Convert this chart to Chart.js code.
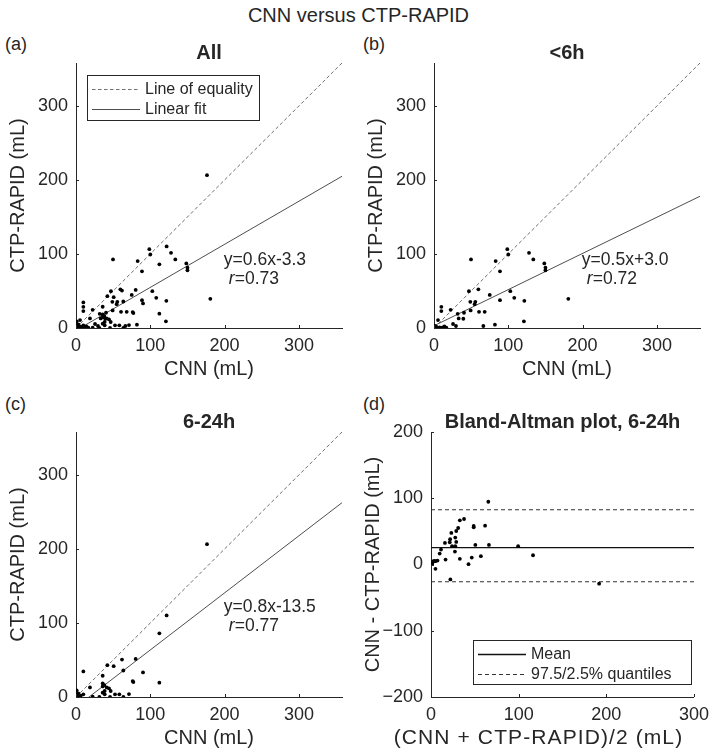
<!DOCTYPE html>
<html>
<head>
<meta charset="utf-8">
<title>CNN versus CTP-RAPID</title>
<script src="https://cdn.jsdelivr.net/npm/chart.js@4.4.1/dist/chart.umd.min.js"></script>
<style>
    html, body { margin: 0; padding: 0; background: #fff; }
    body {
        width: 717px; height: 752px; position: relative; overflow: hidden;
        font-family: "Liberation Sans", Arial, sans-serif; color: #262626;
    }
    .panel { position: absolute; }
    .tag { position: absolute; font-size: 18px; line-height: 20px; }
    #mainTitle {
        position: absolute; left: 0; top: 4px; width: 717px;
        text-align: center; font-size: 20px; line-height: 22px;
    }
</style>
</head>
<body>

<div id="mainTitle">CNN versus CTP-RAPID</div>
<div class="tag" style="left:5px;  top:34px">(a)</div>
<div class="tag" style="left:363px; top:34px">(b)</div>
<div class="tag" style="left:5px;  top:394px">(c)</div>
<div class="tag" style="left:363px; top:394px">(d)</div>

<div class="panel" style="left:0;     top:30px;  width:358px; height:351px"><canvas id="chartAll"></canvas></div>
<div class="panel" style="left:358px; top:30px;  width:358px; height:351px"><canvas id="chartLt6"></canvas></div>
<div class="panel" style="left:0;     top:399px; width:358px; height:351px"><canvas id="chartGt6"></canvas></div>
<div class="panel" style="left:358px; top:399px; width:358px; height:351px"><canvas id="chartBA"></canvas></div>

<script>
/* ── Data ───────────────────────────────────────────────────── */

// <6h : CNN volume vs CTP-RAPID volume (mL)
const lt6Cnn   = [49.8, 98.7, 100, 127.9, 133.7, 83, 88.8, 148.5, 150, 150,
                  47, 59.7, 75, 102.7, 108, 121.6, 88.8, 180.8, 48.9, 55.6,
                  54.7, 9.9, 9.9, 22.4, 31.9, 40.4, 49.3, 60.6, 68.2, 33.2,
                  39.5, 5.4, 25.6, 29.6, 66.4, 82, 121,
                  0, 3, 7.6, 12, 14, 16.6, 4.5, 10, 1, 2];
const lt6Rapid = [92.6, 106.5, 99.3, 101.6, 92.6, 90.4, 76.5, 87.2, 81.4, 77.9,
                  49.7, 52.3, 44.7, 49.7, 40.7, 36.7, 37.6, 39.4, 35.3, 35.3,
                  32.2, 28.6, 22.8, 24.6, 19.2, 20.6, 23.7, 21.9, 21.9, 13,
                  12.5, 10.7, 5.4, 2.7, 2.7, 4.5, 9,
                  0.9, 1.8, 0.9, 0.9, 2, 0.5, 0.5, 0, 2.7, 0];

// 6-24h
const gt6Cnn   = [176.3, 122, 112.2, 9.9, 42.2, 50.7, 61.9, 80.3, 35.9, 63.7,
                  90.2, 76.3, 77.2, 112.2, 18.8, 35.9, 38.1, 35.9, 41.3, 44.4,
                  46.7, 38.6, 35.9, 38.6, 52.5, 58.3, 71.3, 63.7, 45.8, 31.4,
                  22.4, 0.9, 3.1, 9.9, 6.3, 0, 1, 4, 2.5];
const gt6Rapid = [206.5, 110.2, 86, 34.5, 43, 41.7, 50.6, 51.5, 28.7, 35.8,
                  33.2, 21.5, 20.2, 19.3, 13, 18.4, 16.1, 14.3, 13, 11.6,
                  8.1, 8.1, 5.8, 3.6, 3.6, 3.6, 4, 0, 0, 0,
                  0.4, 9, 4.9, 3.6, 1.8, 0, 1, 0, 0.5];

// Bland-Altman, 6-24h
const baMean = [65.4, 37.7, 32.9, 31, 28.8, 23.2, 48.7, 48.7, 61.7, 27.7,
                21.8, 28.8, 15.9, 21.4, 24, 27.7, 50.6, 66.1, 99.4, 27.3,
                11.4, 9.9, 16.6, 32.9, 46.5, 56.9, 116.4, 42.8, 7.4, 3.7,
                2.2, 0.7, 0, 5.1, 22.1, 191.8, 5, 1.5];
const baDiff = [94.7, 68.7, 66.7, 55.1, 50.6, 47.6, 58.1, 56.1, 58.6, 40.6,
                38.1, 34.1, 32.6, 33.6, 27.6, 27.6, 29.6, 29.6, 27.6, 19.5,
                22.6, 16.5, 7.5, 8.5, 10.5, 12.5, 14, 0.5, 6, 5.5,
                4.5, 2.5, 0.5, -6.5, -22.6, -29, 5, 1];
const baLevels = [25.5, 82.7, -26];          // mean, 97.5% and 2.5% quantiles

// Fit lines, drawn across the whole x range
const fitX      = [0, 358];
const fitAllY   = [-3.3, 205];
const fitLt6Y   = [3, 178];
const fitGt6Y   = [-13.5, 262.5];
const fitLabels = ['y=0.6x-3.3', 'y=0.5x+3.0', 'y=0.8x-13.5'];
const rLabels   = ['0.73', '0.72', '0.77'];

// Axes
const volMax   = 358;
const volTicks = [0, 100, 200, 300];
const baXTicks = [0, 100, 200, 300];
const baYTicks = [-200, -100, 0, 100, 200];

/* ── Style ───────────────────────────────────────────────────── */
const FONT = '"Liberation Sans", Arial, sans-serif';
const INK  = '#262626';
const LINE = '#3a3a3a';

const toPts = (xs, ys) => xs.map((v, i) => ({ x: v, y: ys[i] }));
const fmtTick = v => (v < 0 ? '\u2212' + Math.abs(v) : String(v));

// ── Plugins ──────────────────────────────────────────────────
const inwardTicks = {
    id: 'inwardTicks',
    afterDatasetsDraw(chart) {
        const { ctx, chartArea: a, scales: { x, y } } = chart;
        ctx.save();
        ctx.strokeStyle = INK;
        ctx.lineWidth = 1;
        ctx.beginPath();
        x.ticks.forEach(t => {
            const px = Math.round(x.getPixelForValue(t.value)) + 0.5;
            ctx.moveTo(px, a.bottom); ctx.lineTo(px, a.bottom - 3);
        });
        y.ticks.forEach(t => {
            const py = Math.round(y.getPixelForValue(t.value)) + 0.5;
            ctx.moveTo(a.left, py); ctx.lineTo(a.left + 3, py);
        });
        ctx.stroke();
        ctx.restore();
    }
};

const fitText = {
    id: 'fitText',
    afterDatasetsDraw(chart, args, opts) {
        if (!opts.eq) return;
        const { ctx, scales: { x, y } } = chart;
        const px = x.getPixelForValue(opts.at[0]);
        const py = y.getPixelForValue(opts.at[1]);
        ctx.save();
        ctx.fillStyle = INK;
        ctx.textAlign = 'left';
        ctx.textBaseline = 'middle';
        ctx.font = '17.5px ' + FONT;
        ctx.fillText(opts.eq, px, py);
        ctx.font = 'italic 17.5px ' + FONT;
        ctx.fillText('r', px + 5, py + 19);
        const w = ctx.measureText('r').width;
        ctx.font = '17.5px ' + FONT;
        ctx.fillText('=' + opts.r, px + 5 + w, py + 19);
        ctx.restore();
    }
};

// legend in a framed box inside the plot area
const boxLegend = {
    id: 'boxLegend',
    afterDraw(chart, args, opts) {
        if (!opts.items) return;
        const { ctx, chartArea: a } = chart;
        const bx = opts.anchor === 'tl' ? a.left + opts.dx : a.right - opts.dx - opts.w;
        const by = opts.anchor === 'tl' ? a.top + opts.dy : a.bottom - opts.dy - opts.h;
        ctx.save();
        ctx.fillStyle = '#fff';
        ctx.fillRect(bx, by, opts.w, opts.h);
        ctx.strokeStyle = INK;
        ctx.lineWidth = 1;
        ctx.strokeRect(Math.round(bx) + 0.5, Math.round(by) + 0.5, opts.w, opts.h);
        ctx.font = '16px ' + FONT;
        ctx.textBaseline = 'middle';
        opts.items.forEach((idx, i) => {
            const ds = chart.data.datasets[idx];
            const yy = Math.round(by + 13.5 + i * 20.5) + 0.5;
            ctx.strokeStyle = ds.borderColor;
            ctx.lineWidth = ds.borderWidth;
            ctx.setLineDash(ds.borderDash || []);
            ctx.beginPath();
            ctx.moveTo(bx + 5, yy); ctx.lineTo(bx + 53, yy);
            ctx.stroke();
            ctx.setLineDash([]);
            ctx.fillStyle = INK;
            ctx.fillText(ds.label, bx + 58, yy);
        });
        ctx.restore();
    }
};

// hand-drawn x caption for panel (d), wider than the plain axis title
const xCaption = {
    id: 'xCaption',
    afterDraw(chart, args, opts) {
        if (!opts.text) return;
        const { ctx, chartArea: a } = chart;
        ctx.save();
        ctx.fillStyle = INK;
        ctx.font = opts.size + 'px ' + FONT;
        if ('letterSpacing' in ctx) ctx.letterSpacing = opts.spacing + 'px';
        ctx.textAlign = 'center';
        ctx.textBaseline = 'middle';
        ctx.fillText(opts.text, (a.left + a.right) / 2 + opts.dx, chart.height - opts.fromBottom);
        ctx.restore();
    }
};

Chart.register(inwardTicks, fitText, boxLegend, xCaption);

// ── Shared builders ─────────────────────────────────────────
function scaleX(max, ticks, title) {
    return {
        type: 'linear', min: 0, max: max,
        afterBuildTicks: s => { s.ticks = ticks.map(v => ({ value: v })); },
        afterFit: s => { s.height = 53; },
        grid: { display: false, drawTicks: false },
        border: { display: true, color: INK, width: 1 },
        ticks: { padding: 7, color: INK, font: { family: FONT, size: 18 }, callback: fmtTick },
        title: { display: !!title, text: title, color: INK,
                 font: { family: FONT, size: 20 }, padding: { top: 0, bottom: 0 } }
    };
}

function scaleY(min, max, ticks, title, width, titlePad) {
    return {
        type: 'linear', min: min, max: max,
        afterBuildTicks: s => { s.ticks = ticks.map(v => ({ value: v })); },
        afterFit: s => { s.width = width; },
        grid: { display: false, drawTicks: false },
        border: { display: true, color: INK, width: 1 },
        ticks: { padding: 8, color: INK, font: { family: FONT, size: 18 }, callback: fmtTick },
        title: { display: true, text: title, color: INK,
                 font: { family: FONT, size: 20 }, padding: { top: titlePad, bottom: 0 } }
    };
}

function baseOptions(title, rightPad) {
    return {
        responsive: true,
        maintainAspectRatio: false,
        animation: false,
        events: [],
        layout: { padding: { top: 13, right: rightPad, left: 0, bottom: 0 } },
        plugins: {
            legend: { display: false },
            tooltip: { enabled: false },
            title: { display: true, text: title, color: INK, fullSize: false,
                     font: { family: FONT, size: 20, weight: 'bold', lineHeight: 1 },
                     padding: { top: 0, bottom: 0 } }
        }
    };
}

function scatterSet(xs, ys) {
    return { label: 'data', data: toPts(xs, ys), pointRadius: 1.9,
             pointBackgroundColor: '#000', pointBorderWidth: 0, showLine: false };
}

function lineSet(label, pts, color, width, dash) {
    return { label: label, data: pts, showLine: true, pointRadius: 0,
             borderColor: color, borderWidth: width, borderDash: dash || [], fill: false };
}

// ── Volume scatter panels ───────────────────────────────────
function volumePanel(id, title, xs, ys, fitY, k, withLegend) {
    const opts = baseOptions(title, 16);
    opts.scales = {
        x: scaleX(volMax, volTicks, 'CNN (mL)'),
        y: scaleY(0, volMax, volTicks, 'CTP-RAPID (mL)', 76, 6)
    };
    opts.plugins.fitText = { eq: fitLabels[k], r: rLabels[k], at: k === 2 ? [199, 122] : [199, 92] };
    if (withLegend) {
        opts.plugins.boxLegend = { items: [1, 2], anchor: 'tl', dx: 11, dy: 12, w: 172, h: 45 };
    }
    new Chart(document.getElementById(id), {
        type: 'scatter',
        data: {
            datasets: [
                scatterSet(xs, ys),
                lineSet('Line of equality', [{ x: 0, y: 0 }, { x: volMax, y: volMax }], '#4a4a4a', 0.8, [3.5, 2.5]),
                lineSet('Linear fit', toPts(fitX, fitY), LINE, 0.9)
            ]
        },
        options: opts
    });
}

volumePanel('chartAll', 'All', lt6Cnn.concat(gt6Cnn), lt6Rapid.concat(gt6Rapid), fitAllY, 0, true);
volumePanel('chartLt6', '<6h', lt6Cnn, lt6Rapid, fitLt6Y, 1, false);
volumePanel('chartGt6', '6-24h', gt6Cnn, gt6Rapid, fitGt6Y, 2, false);

// ── Bland-Altman panel ──────────────────────────────────────
(function () {
    const opts = baseOptions('Bland-Altman plot, 6-24h', 15);
    opts.scales = {
        x: scaleX(300, baXTicks, ''),
        y: scaleY(-200, 200, baYTicks, 'CNN - CTP-RAPID (mL)', 73, 3)
    };
    opts.plugins.boxLegend = { items: [1, 2], anchor: 'br', dx: 3, dy: 13, w: 218, h: 44 };
    opts.plugins.xCaption = { text: '(CNN + CTP-RAPID)/2 (mL)', size: 21, spacing: 1.1, dx: -24, fromBottom: 12 };
    const span = v => [{ x: 0, y: v }, { x: 300, y: v }];
    new Chart(document.getElementById('chartBA'), {
        type: 'scatter',
        data: {
            datasets: [
                scatterSet(baMean, baDiff),
                lineSet('Mean', span(baLevels[0]), '#111', 1.3),
                lineSet('97.5/2.5% quantiles', span(baLevels[1]), '#333', 1.1, [4, 3]),
                lineSet('lower', span(baLevels[2]), '#333', 1.1, [4, 3])
            ]
        },
        options: opts
    });
})();
</script>
</body>
</html>
